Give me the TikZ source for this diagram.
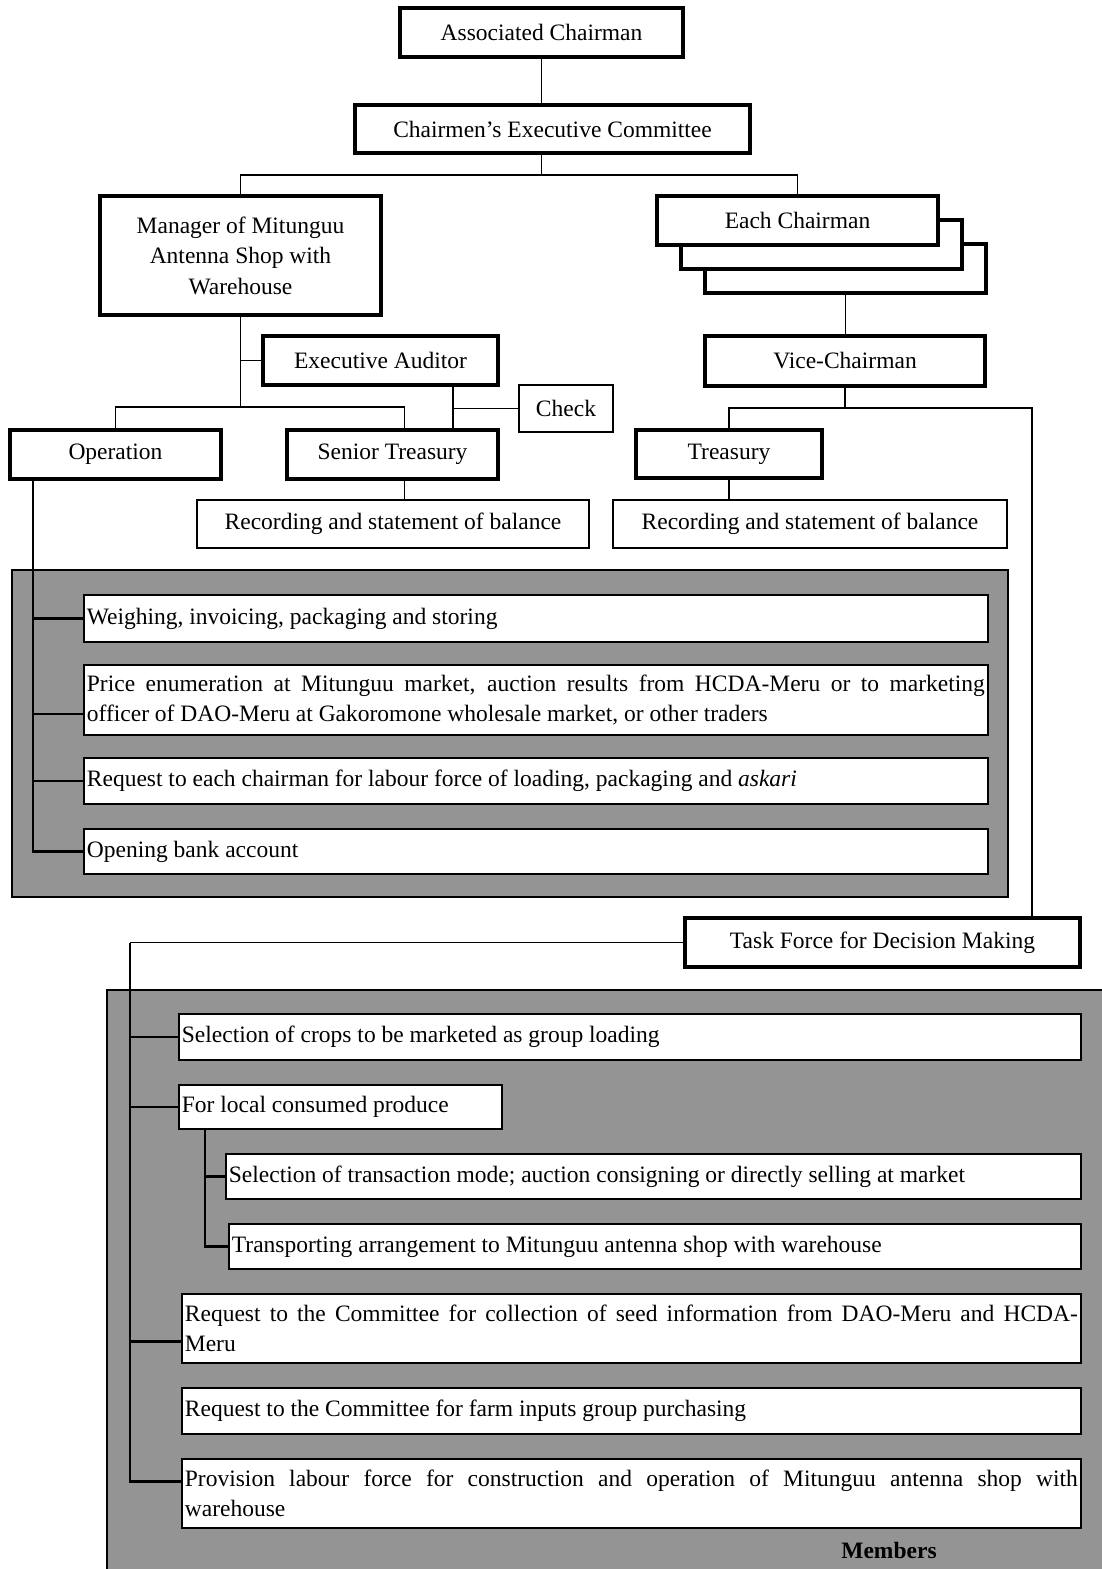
\documentclass[tikz,border=0pt]{standalone}
\usepackage{fontspec}
\setmainfont{Liberation Serif}
\usetikzlibrary{positioning, calc}

\begin{document}
\begin{tikzpicture}[x=1pt,y=-1pt,
  every node/.style={font=\fontsize{23.5}{30.5}\selectfont},
  headbox/.style={draw,line width=4pt,fill=white,inner sep=2pt,align=center},
  plainbox/.style={draw,line width=1.6pt,fill=white,inner sep=2pt,align=center},
  itembox/.style={draw,line width=1.8pt,fill=white,anchor=north west,inner xsep=3pt,inner ysep=1pt,align=justify},
  shaded/.style={fill=black!42,draw=black,line width=1.2pt},
  link/.style={line width=1.6pt},
  bracket/.style={line width=2.6pt}]
\useasboundingbox (0,0) rectangle (1101,1569);
% Top of the chart
\node[headbox,minimum width=283pt,minimum height=49pt] (assoc) at (541.5,32.5) {Associated Chairman};
\node[headbox,minimum width=395pt,minimum height=48pt] (cec) at (552.5,129) {Chairmen's Executive Committee};
\node[headbox,minimum width=281pt,minimum height=119pt] (manager) at (240.5,255.5) {Manager of Mitunguu\\Antenna Shop with\\Warehouse};
% Stacked chairmen
\node[headbox,minimum width=281pt,minimum height=49pt] (chair3) at (845.5,268.5) {};
\node[headbox,minimum width=281pt,minimum height=49pt] (chair2) at (821.5,244.5) {};
\node[headbox,minimum width=281pt,minimum height=49pt] (chair1) at (797.5,220.5) {Each Chairman};
\node[headbox,minimum width=280pt,minimum height=50pt] (vice) at (845,361) {Vice-Chairman};
\node[headbox,minimum width=235pt,minimum height=49pt] (auditor) at (380.5,360.5) {Executive Auditor};
\node[plainbox,minimum width=94pt,minimum height=47pt] (check) at (566,408.5) {Check};
\node[headbox,minimum width=211pt,minimum height=49pt] (oper) at (115.5,454.5) {Operation};
\node[headbox,minimum width=211pt,minimum height=49pt] (senior) at (392.5,454.5) {Senior Treasury};
\node[headbox,minimum width=186pt,minimum height=48pt] (treas) at (729,454) {Treasury};
\node[plainbox,minimum width=392pt,minimum height=48pt] (recA) at (393,524) {Recording and statement of balance};
\node[plainbox,minimum width=394pt,minimum height=48pt] (recB) at (810,524) {Recording and statement of balance};
\node[headbox,minimum width=395pt,minimum height=49pt] (task) at (882.5,942.5) {Task Force for Decision Making};

% Connectors of the upper part
\draw[link] (assoc.south) -- (assoc.south |- cec.north);
\draw[link] (assoc.south |- cec.south) -- ++(0,20) coordinate (csplit);
\draw[link] (manager.north) |- (csplit) -| (chair1.north);
\draw[link] (manager.south) -- ++(0,90) coordinate (msplit);
\draw[link] (oper.north) |- (msplit) -| ($(senior.north)+(12,0)$);
\draw[link] (auditor.west) -- (auditor.west -| msplit);
\draw[link] ($(auditor.south east)+(-47,0)$) coordinate (audx) -- (audx |- senior.north);
\draw[link] (check.west) -- (check.west -| audx);
\draw[link] ($(senior.south)+(12,0)$) coordinate (stx) -- (stx |- recA.north);
\draw[link] (chair3.south) -- (chair3.south |- vice.north);
\draw[link] (vice.south) -- ++(0,20) coordinate (vsplit);
\draw[link] (treas.north) |- (vsplit) -| ($(task.north east)+(-50,0)$);
\draw[link] (treas.south) -- (recB.north -| treas.south);

% Operation panel
\draw[shaded] (12,570) rectangle (1008,897);
\node[itembox,text width=898pt,minimum height=47pt] (op1) at (83,594) {Weighing, invoicing, packaging and storing};
\node[itembox,text width=898pt,minimum height=70pt] (op2) at (83,664) {Price enumeration at Mitunguu market, auction results from HCDA-Meru or to marketing\linebreak officer of DAO-Meru at Gakoromone wholesale market, or other traders};
\node[itembox,text width=898pt,minimum height=46pt] (op3) at (83,757) {Request to each chairman for labour force of loading, packaging and \textit{askari}};
\node[itembox,text width=898pt,minimum height=45pt] (op4) at (83,828) {Opening bank account};
\draw[bracket] ($(oper.south west)+(25,0)$) coordinate (opx) |- (op4.west);
\draw[bracket] (opx |- op1.west) -- (op1.west);
\draw[bracket] (opx |- op3.west) -- (op3.west);
\coordinate (op2t) at ($(op2.west)+(0,14)$);
\draw[bracket] (opx |- op2t) -- (op2t);

% Task force panel
\draw[shaded] (107,990) rectangle (1125,1600);
\node[itembox,text width=896pt,minimum height=46pt] (tf1) at (178,1013) {Selection of crops to be marketed as group loading};
\node[itembox,text width=317pt,minimum height=44pt] (tf2) at (178,1084) {For local consumed produce};
\node[itembox,text width=849pt,minimum height=45pt] (tf3) at (225,1153) {Selection of transaction mode; auction consigning or directly selling at market};
\node[itembox,text width=846pt,minimum height=45pt] (tf4) at (228,1223) {Transporting arrangement to Mitunguu antenna shop with warehouse};
\node[itembox,text width=893pt,minimum height=69pt] (tf5) at (181,1293) {Request to the Committee for collection of seed information from DAO-Meru and HCDA-\linebreak Meru};
\node[itembox,text width=893pt,minimum height=46pt] (tf6) at (181,1387) {Request to the Committee for farm inputs group purchasing};
\node[itembox,text width=893pt,minimum height=69pt] (tf7) at (181,1458) {Provision labour force for construction and operation of Mitunguu antenna shop with \linebreak warehouse};
\node[font=\fontsize{23.5}{28}\selectfont\bfseries] (members) at (889,1550) {Members};
\coordinate (tf5t) at ($(tf5.west)+(0,13)$);
\coordinate (tf7t) at ($(tf7.west)+(0,-12)$);
\draw[link] (task.west) -- ++(-553,0) coordinate (tfx);
\draw[bracket] (tfx) |- (tf7t);
\draw[bracket] (tfx |- tf1.west) -- (tf1.west);
\draw[bracket] (tfx |- tf2.west) -- (tf2.west);
\draw[bracket] (tfx |- tf5t) -- (tf5t);
\draw[bracket] ($(tf2.south west)+(27,0)$) coordinate (subx) |- (tf4.west);
\draw[bracket] (subx |- tf3.west) -- (tf3.west);
\end{tikzpicture}
\end{document}
